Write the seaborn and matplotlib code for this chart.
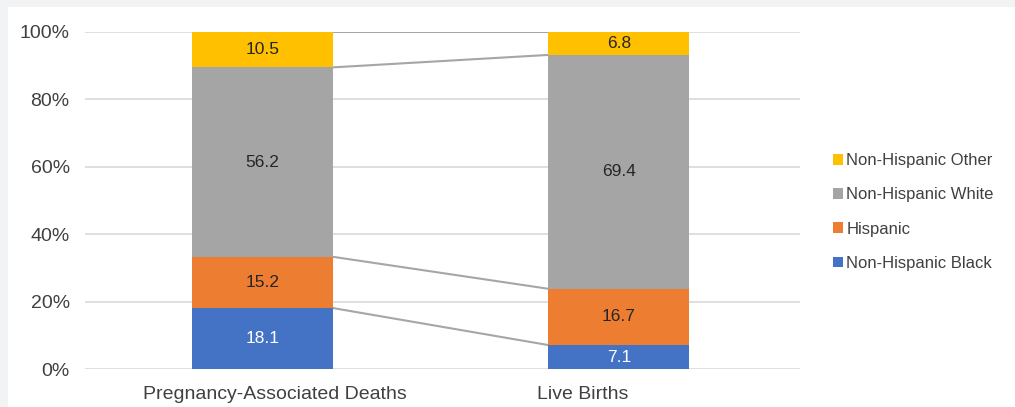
"""
Stacked 100% bar chart: race/ethnicity of pregnancy-associated deaths vs live births.
"""

import matplotlib
matplotlib.use("Agg")
import matplotlib.pyplot as plt
from matplotlib.patches import Patch, Rectangle
from matplotlib.transforms import ScaledTranslation
import seaborn as sns
import pandas as pd
import numpy as np

# Data (percent)
categories = ["Pregnancy-Associated Deaths", "Live Births"]
series_names = ["Non-Hispanic Black", "Hispanic", "Non-Hispanic White", "Non-Hispanic Other"]
nh_black = [18.1, 7.1]
hispanic = [15.2, 16.7]
nh_white = [56.2, 69.4]
nh_other = [10.5, 6.8]

colors = {
    "Non-Hispanic Black": "#4472C4",
    "Hispanic": "#ED7D31",
    "Non-Hispanic White": "#A5A5A5",
    "Non-Hispanic Other": "#FFC000",
}
label_colors = {
    "Non-Hispanic Black": "white",
    "Hispanic": "#262626",
    "Non-Hispanic White": "#262626",
    "Non-Hispanic Other": "#262626",
}

sns.set_theme(style="whitegrid")
plt.rcParams["font.family"] = ["Liberation Sans", "DejaVu Sans"]
text_col = "#404040"

df = pd.DataFrame({
    "category": categories,
    "Non-Hispanic Black": nh_black,
    "Hispanic": hispanic,
    "Non-Hispanic White": nh_white,
    "Non-Hispanic Other": nh_other,
})
cum = df[series_names].cumsum(axis=1)

fig = plt.figure(figsize=(10.15, 4.07), dpi=100, facecolor="#F2F3F5")
fig.patches.append(Rectangle((8 / 1015, 0), 1, 400 / 407, transform=fig.transFigure,
                             facecolor="white", edgecolor="none", zorder=-5))
ax = fig.add_axes([85 / 1015, 38 / 407, 715 / 1015, 337 / 407])
ax.set_facecolor("none")
ax.set_zorder(2)

bar_w = 0.395
# draw tallest cumulative first, smaller ones on top
for name in reversed(series_names):
    sns.barplot(x=df["category"], y=cum[name], color=colors[name], width=bar_w,
                saturation=1, ax=ax, zorder=3, linewidth=0)

# segment labels
for i in range(len(categories)):
    bottom = 0
    for name in series_names:
        v = df.loc[i, name]
        ax.text(i, bottom + v / 2, f"{v:.1f}", ha="center", va="center",
                fontsize=12.5, color=label_colors[name], zorder=5)
        bottom += v

# series lines between bars
for name in series_names:
    ys = cum[name].values
    ax.plot([bar_w / 2, 1 - bar_w / 2], ys, color="#A6A6A6", lw=1.5, zorder=2)

ax.set_xlim(-0.497, 1.508)
ax.set_ylim(0, 100)
ax.set_yticks(np.arange(0, 101, 20))
ax.set_yticklabels([f"{t}%" for t in range(0, 101, 20)])
ax.set_xlabel("")
ax.set_ylabel("")
ax.grid(axis="y", color="#D9D9D9", lw=1.2)
ax.grid(axis="x", visible=False)
for s in ax.spines.values():
    s.set_visible(False)
ax.tick_params(axis="both", length=0, labelsize=14, colors=text_col)
ax.tick_params(axis="y", pad=11)
ax.tick_params(axis="x", pad=12)

# the category labels in the original sit slightly off the bar centres
for lab, dx in zip(ax.get_xticklabels(), [13, -36]):
    lab.set_transform(lab.get_transform() + ScaledTranslation(dx / 100, 0, fig.dpi_scale_trans))

handles = [Patch(facecolor=colors[n], edgecolor="none", label=n) for n in reversed(series_names)]
leg = fig.legend(handles=handles, loc="center left", bbox_to_anchor=(818 / 1015, 1 - 212 / 407),
                 frameon=False, fontsize=12, handlelength=0.6, handleheight=0.6,
                 handletextpad=0.2, labelspacing=1.15, labelcolor=text_col)

fig.savefig("out.png", dpi=100, facecolor=fig.get_facecolor())
